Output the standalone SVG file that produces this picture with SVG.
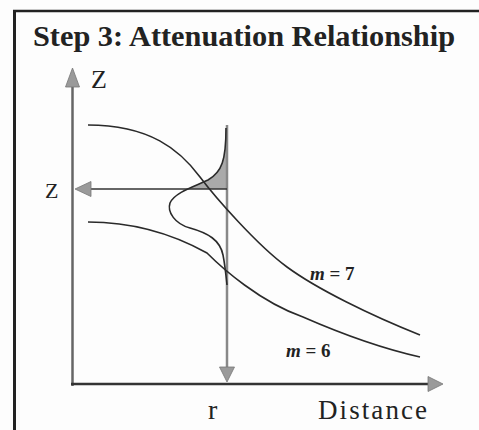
<svg xmlns="http://www.w3.org/2000/svg" width="479" height="430" viewBox="0 0 479 430">
<style>
.serif{font-family:"Liberation Serif","Times New Roman",serif;fill:#222}
.curve{fill:none;stroke:#2a2a2a;stroke-width:1.6}
.head{fill:#9a9a9a;stroke:#777;stroke-width:0.8}
</style>
<rect width="479" height="430" fill="#fdfdfd"/>
<g id="frame">
<line x1="14.5" y1="10" x2="14.5" y2="430" stroke="#222" stroke-width="3"/>
<line x1="13" y1="11" x2="479" y2="11" stroke="#222" stroke-width="2.5"/>
</g>
<g id="title">
<text class="serif" x="33" y="46" font-size="29" font-weight="bold" textLength="422" lengthAdjust="spacingAndGlyphs">Step 3: Attenuation Relationship</text>
</g>
<g id="shaded-area">
<path d="M227,128 L226,128 C226,160 222,172 208,180 C202.4,182.8 194.9,185.6 187.8,189 L227,189 Z" fill="#aaaaaa"/>
</g>
<g id="connectors">
<line x1="72.5" y1="386" x2="72.5" y2="85" stroke="#666" stroke-width="2.5"/>
<polygon class="head" points="72.5,68 65.5,87 79.5,87"/>
<line x1="71" y1="384" x2="429" y2="384" stroke="#333" stroke-width="2.5"/>
<polygon class="head" points="443,384 428,376.5 428,391.5"/>
<line x1="227" y1="125" x2="227" y2="368" stroke="#888" stroke-width="2.5"/>
<polygon class="head" points="227,382 219.5,367 234.5,367"/>
<line x1="227" y1="189" x2="90" y2="189" stroke="#333" stroke-width="1.5"/>
<polygon class="head" points="75,189 91,181.5 91,196.5"/>
</g>
<g id="curve-m7">
<path class="curve" d="M88,125 C150,125 180,150 200,177 C215,197 257,245 287,267 C317,289 370,315 420,335"/>
</g>
<g id="curve-m6">
<path class="curve" d="M88,222 C140,222 180,238 207,253 C222,268 260,302 303,317 C335,331 380,348 420,357"/>
</g>
<g id="bell-curve">
<path class="curve" stroke-width="1.8" d="M226,128 C226,160 222,172 208,180 C196,186 175,192 170,203 C167,212 175,224 190,228 C208,233 220,240 223,255 C225,265 226,275 227,285"/>
</g>
<g id="labels">
<text class="serif" x="91" y="88" font-size="26">Z</text>
<text class="serif" x="45" y="198" font-size="22">Z</text>
<text class="serif" x="208" y="419" font-size="28">r</text>
<text class="serif" x="318" y="419" font-size="27" textLength="109" lengthAdjust="spacing">Distance</text>
<text class="serif" x="310" y="280" font-size="19" font-weight="bold"><tspan font-style="italic">m</tspan> = 7</text>
<text class="serif" x="286" y="357" font-size="19" font-weight="bold"><tspan font-style="italic">m</tspan> = 6</text>
</g>
</svg>
